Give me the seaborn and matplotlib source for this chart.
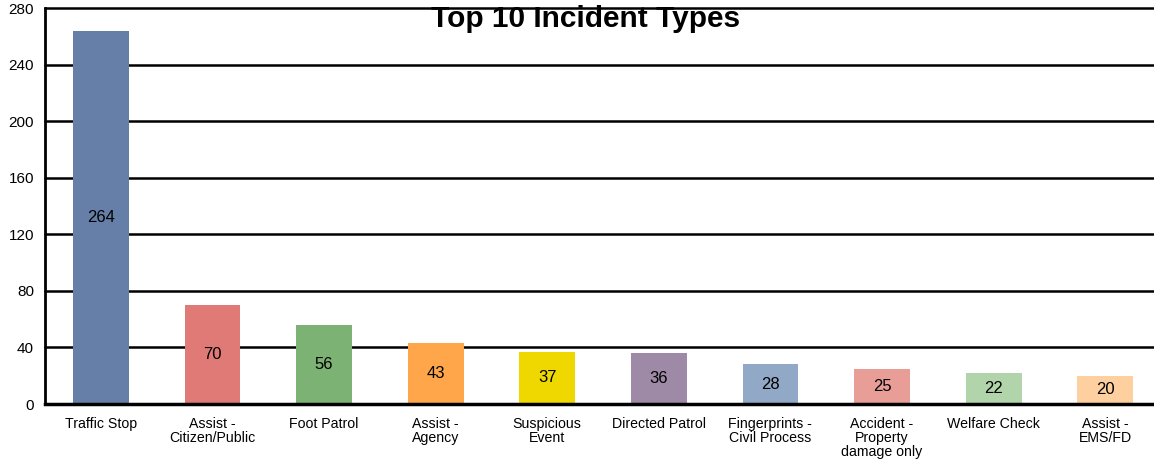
import matplotlib
matplotlib.use('Agg')
import matplotlib.pyplot as plt
import seaborn as sns
import pandas as pd

# data
categories = ['Traffic Stop', 'Assist -\nCitizen/Public', 'Foot Patrol', 'Assist -\nAgency',
              'Suspicious\nEvent', 'Directed Patrol', 'Fingerprints -\nCivil Process',
              'Accident -\nProperty\ndamage only', 'Welfare Check', 'Assist -\nEMS/FD']
counts = [264, 70, 56, 43, 37, 36, 28, 25, 22, 20]
colors = ['#657FA8', '#E07A77', '#7CB273', '#FFA64B', '#EED800',
          '#9E8AA6', '#91A9C7', '#E89E96', '#B1D4AA', '#FFD09F']
yticks = [0, 40, 80, 120, 160, 200, 240, 280]

sns.set_style('white')
plt.rcParams['font.family'] = ['Liberation Sans', 'DejaVu Sans']
plt.rcParams['text.color'] = 'black'
plt.rcParams['xtick.color'] = 'black'
plt.rcParams['ytick.color'] = 'black'

df = pd.DataFrame({'type': categories, 'count': counts})

fig = plt.figure(figsize=(11.54, 4.61), dpi=100)
ax = fig.add_axes([45 / 1154, 57 / 461, 1116 / 1154, 396 / 461])

sns.barplot(data=df, x='type', y='count', hue='type', palette=colors,
            legend=False, width=0.5, ax=ax, saturation=1, linewidth=0, edgecolor='none')

for i, v in enumerate(counts):
    ax.text(i, v / 2, str(v), ha='center', va='center', fontsize=12, color='black')

ax.set_ylim(0, 280)
ax.set_yticks(yticks)
ax.set_xlim(-0.5, len(categories) - 0.5)
ax.yaxis.grid(True, color='black', linewidth=1.8)
for gl in ax.get_ygridlines():
    gl.set_clip_on(False)
ax.set_axisbelow(True)
ax.set_xlabel('')
ax.set_ylabel('')
ax.tick_params(axis='y', labelsize=11, length=0, pad=8)
ax.tick_params(axis='x', labelsize=10.2, length=0, pad=9.2)
for lbl in ax.get_xticklabels():
    lbl.set_linespacing(1.0)

for s in ['top', 'right']:
    ax.spines[s].set_visible(False)
ax.spines['left'].set_color('black')
ax.spines['left'].set_linewidth(2)
ax.spines['bottom'].set_color('black')
ax.spines['bottom'].set_linewidth(2.5)

fig.text(586 / 1154, 1 - 19 / 461, 'Top 10 Incident Types', ha='center', va='center',
         fontsize=21.5, fontweight='bold')

plt.savefig('out.png', dpi=100)
plt.close()
